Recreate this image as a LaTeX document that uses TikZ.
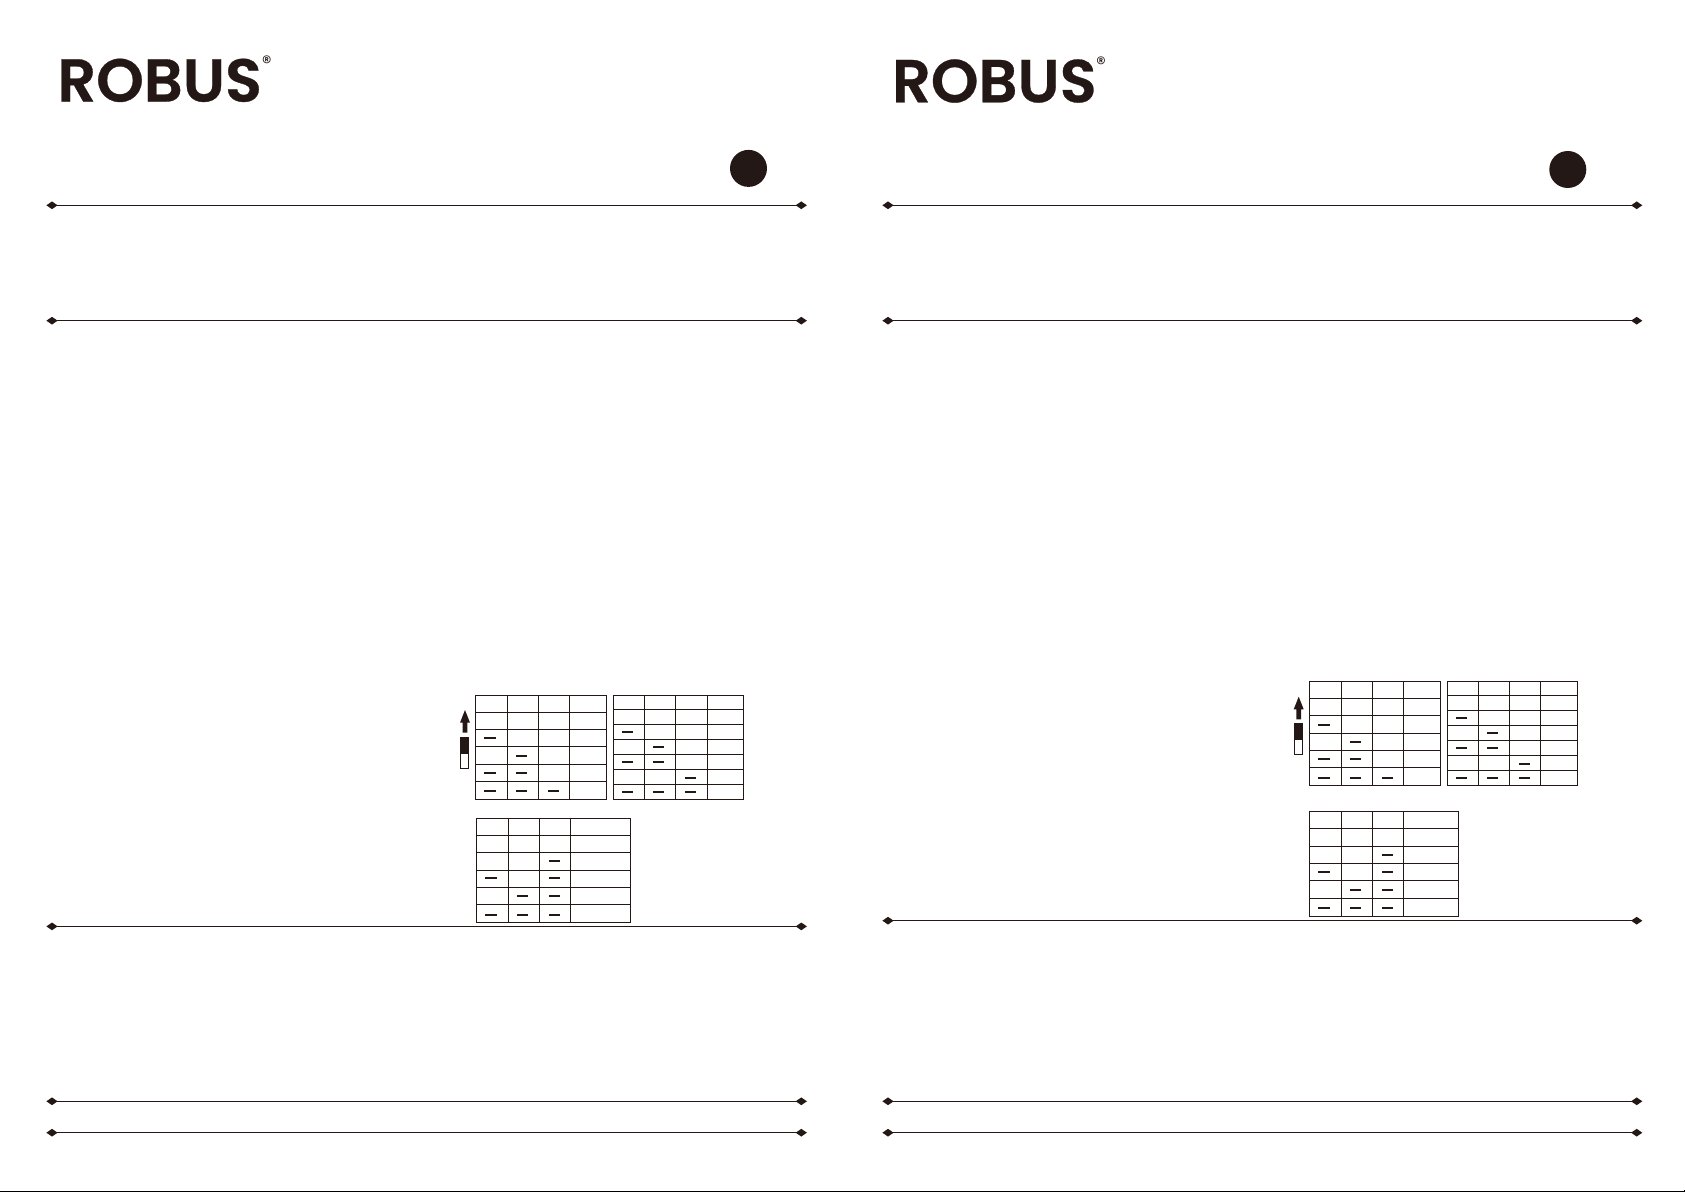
\documentclass[tikz,border=0pt]{standalone}
\usepackage{fontspec}
\usepackage{tikz}
\usetikzlibrary{shapes.geometric}
\newfontfamily\logofont[FakeBold=0.5]{Poppins SemiBold}
\definecolor{robusblack}{HTML}{231815}
\tikzset{
  rule/.style = {line width = .75pt, robusblack},
  endmark/.style = {diamond, fill = robusblack, inner sep = 0pt, minimum width = .23cm, minimum height = .16cm},
  tableline/.style = {line width = .7pt, line cap = rect, robusblack},
  cellmark/.style = {rectangle, fill = robusblack, inner sep = 0pt, minimum width = .23cm, minimum height = .04cm},
  logotext/.style = {anchor = base west, inner sep = 0pt, text = robusblack, font = \logofont\fontsize{34.5}{34.5}\selectfont},
  logoreg/.style = {inner sep = 0pt, text = robusblack, font = \fontspec{Poppins}\fontsize{11}{11}\selectfont}
}
\begin{document}
\begin{tikzpicture}[x = .02cm, y = -.02cm]
\useasboundingbox (0,0) rectangle (1685,1192);

\node[logotext] (logoleft) at (57,101.6) {ROBUS};
\node[logoreg] (regleft) at (266.7,62.8) {®};
\node[logotext] (logoright) at (891.7,102.3) {ROBUS};
\node[logoreg] (regright) at (1101,63.2) {®};

\fill[robusblack] (748.5,168.4) circle (18.5);
\fill[robusblack] (1567.8,169.5) circle (18.5);

\foreach \y/\n in {205.3/a, 320.7/b, 926.4/c, 1101.3/d, 1132.7/e} {
  \node[endmark] (left\n w) at (52,\y) {};
  \node[endmark] (left\n e) at (801.3,\y) {};
  \draw[rule] (left\n w.center) -- (left\n e.center);
}
\foreach \y/\n in {205.3/a, 320.7/b, 920.7/c, 1101.3/d, 1132.7/e} {
  \node[endmark] (right\n w) at (888,\y) {};
  \node[endmark] (right\n e) at (1636.7,\y) {};
  \draw[rule] (right\n w.center) -- (right\n e.center);
}

\foreach \x in {475.3,507.3,538.3,569.3,606.3} \draw[tableline] (\x,695.3) -- (\x,799.3);
\foreach \y in {695.3,712.3,729.3,746.3,764.3,781.3,799.3} \draw[tableline] (475.3,\y) -- (606.3,\y);
\foreach \x/\y in {490/737.7, 521.7/756, 490/773, 521.7/773, 490/790.7, 521.7/790.7, 553.5/790.7} \node[cellmark] at (\x,\y) {};

\foreach \x in {613.3,644.3,675.3,707.3,743.3} \draw[tableline] (\x,695.3) -- (\x,799.3);
\foreach \y in {695.3,709.3,724.3,739.3,754.3,769.3,784.3,799.3} \draw[tableline] (613.3,\y) -- (743.3,\y);
\foreach \x/\y in {627.5/732, 658.5/747, 627.5/762, 658.5/762, 690.5/778, 627.5/792, 658.5/792, 690.5/792} \node[cellmark] at (\x,\y) {};

\foreach \x in {476.3,508.3,539.3,570.3,630.3} \draw[tableline] (\x,818.3) -- (\x,922.3);
\foreach \y in {818.3,835.3,852.3,870.3,887.3,904.3,922.3} \draw[tableline] (476.3,\y) -- (630.3,\y);
\foreach \x/\y in {554.5/861, 491/878, 554.5/878, 522.5/896, 554.5/896, 491/915, 522.5/915, 554.5/915} \node[cellmark] at (\x,\y) {};

\foreach \x in {1309.3,1341.3,1372.3,1403.3,1440.7} \draw[tableline] (\x,681.3) -- (\x,785.3);
\foreach \y in {681.3,698.3,715.3,733.3,750.3,767.3,785.3} \draw[tableline] (1309.3,\y) -- (1440.7,\y);
\foreach \x/\y in {1324/724.7, 1355.5/742, 1324/759, 1355.5/759, 1324/778, 1355.5/778, 1387.5/778} \node[cellmark] at (\x,\y) {};

\foreach \x in {1447.3,1478.3,1509.3,1540.3,1577.3} \draw[tableline] (\x,681.3) -- (\x,785.3);
\foreach \y in {681.3,695.3,710.3,725.3,740.3,755.3,770.3,785.3} \draw[tableline] (1447.3,\y) -- (1577.3,\y);
\foreach \x/\y in {1461.5/718, 1492.5/733, 1461.5/748, 1492.5/748, 1524.5/764, 1461.5/778, 1492.5/778, 1524.5/778} \node[cellmark] at (\x,\y) {};

\foreach \x in {1309.3,1341.3,1372.3,1403.3,1458.3} \draw[tableline] (\x,811.3) -- (\x,916.3);
\foreach \y in {811.3,828.3,846.3,863.3,880.3,898.3,916.3} \draw[tableline] (1309.3,\y) -- (1458.3,\y);
\foreach \x/\y in {1387.5/855, 1324/872, 1387.5/872, 1355.5/890, 1387.5/890, 1324/908, 1355.5/908, 1387.5/908} \node[cellmark] at (\x,\y) {};

\fill[robusblack] (465,710) -- (470,722.7) -- (467.3,722.7) -- (467.3,732.7) -- (462.7,732.7) -- (462.7,722.7) -- (460,722.7) -- cycle;
\draw[tableline] (460.3,737.3) rectangle (468.4,768.3);
\fill[robusblack] (460.3,737.3) rectangle (468.4,753.7);

\fill[robusblack] (1298.7,696.7) -- (1303.7,709.3) -- (1301,709.3) -- (1301,719.3) -- (1296.4,719.3) -- (1296.4,709.3) -- (1293.7,709.3) -- cycle;
\draw[tableline] (1294.3,723.3) rectangle (1302.4,754.3);
\fill[robusblack] (1294.3,723.3) rectangle (1302.4,739.7);

\draw[line width = .7pt, black] (0,1191.4) -- (1684.2,1191.4) -- (1684.2,1189.6);
\end{tikzpicture}
\end{document}
